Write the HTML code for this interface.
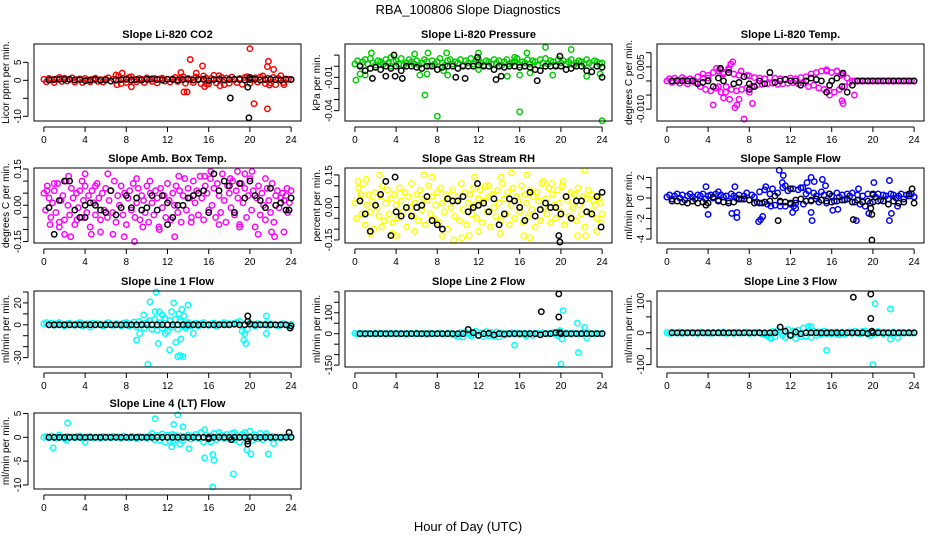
<!DOCTYPE html>
<html><head><meta charset="utf-8"><style>
html,body{margin:0;padding:0;background:#fff}
svg text{font-family:"Liberation Sans",sans-serif}
</style></head><body>
<svg id="chart" width="936" height="540" viewBox="0 0 936 540" xmlns="http://www.w3.org/2000/svg">
<rect width="936" height="540" fill="#fff"/>
<text x="468" y="14" text-anchor="middle" font-size="13">RBA_100806  Slope Diagnostics</text>
<text x="468" y="531" text-anchor="middle" font-size="13">Hour of Day (UTC)</text>
</svg>
<script>
const xTicks=[0,4,8,12,16,20,24];

const co2Band=[0.3,-0.4,0.5,0.2,-0.6,0.4,0.8,-0.3,0.6,-0.2,0.3,0.7,-0.5,0.2,0.4,-0.6,0.5,0.1,-0.4,0.3,0.6,-0.3,0.2,-0.5,0.4,0.7,-0.2,0.3,1.5,1.2,-0.9,0.5,-0.6,0.8,1.0,0.2,-0.4,0.5,0.3,-0.6,0.7,0.2,-0.3,0.5,-0.7,0.4,0.6,-0.2,0.3,-0.5,0.4,0.8,-0.3,0.6,1.0,-0.8,0.5,0.3,-0.6,0.9,0.4,-0.9,1.2,0.6,-1.0,0.5,1.4,-0.7,1.3,0.8,-1.2,0.6,-0.8,0.9,0.3,-0.6,0.5,-1.1,0.8,1.0,-0.8,0.4,0.7,-0.5,0.9,1.2,-0.9,0.6,-0.7,0.8,-1.2,0.5,1.3,-0.6,0.4,0.3,0.2];
const co2Extra=[[13.3,2.2],[13.6,-3.2],[13.9,-3.2],[14.2,5.8],[15.4,4],[15.6,-1.7],[15.8,-1],[14.8,2],[7.1,-1.2],[7.6,2],[8.5,-1.8],[20,8.8],[20.4,-6.5],[21.7,-7.9],[21.7,3.8],[21.8,5.3],[22.3,3],[21.9,-1.3],[17.1,-1.5],[23.3,-1.2]];
const co2Black=[0.1,0.2,0.3,0.2,0.3,0.1,0.2,-0.1,0.1,0.2,0,0.1,-0.2,0.1,0.2,0.3,0.1,0.2,0.1,0.3,0.4,0.2,0.1,0.3,0.2,0.1,0.2,0.3,0.1,0.2,0.3,-0.1,0.2,0.3,0.1,0.2,0.3,0.2,0.1,0.2,0.3,0.1,0.2,0.3,0.2,0.1,0.3,0.2];
const co2BlackExtra=[[18.1,-4.9],[19.8,-1.9],[19.9,-10.4],[20,0.8]];

const presBand=[0.002,0.005,0.001,0.004,0.006,0.002,0.007,0.003,0.001,0.005,0.004,0.002,0.006,0.003,0.000,0.004,0.005,0.002,0.007,0.001,0.003,0.006,0.004,0.002,0.005,0.001,0.003,0.006,0.004,0.000,0.005,0.002,0.004,0.007,0.003,0.001,0.005,0.006,0.002,0.004,0.003,0.006,0.001,0.005,0.003,0.007,0.002,0.004,0.006,0.003,0.001,0.005,0.004,0.002,0.006,0.003,0.005,0.001,0.004,0.006,0.002,0.003,0.005,0.007,0.001,0.004,0.003,0.006,0.002,0.005,0.004,0.001,0.006,0.003,0.007,0.002,0.005,0.004,0.001,0.006,0.003,0.005,0.002,0.004,0.006,0.001,0.003,0.005,0.004,0.002,0.006,0.003,0.001,0.005,0.004,0.002,0.003];
const presExtra=[[0.1,-0.0125],[0.5,-0.007],[1,-0.008],[1.6,0.012],[3.5,0.008],[5.8,0.011],[6.3,-0.008],[6.8,-0.026],[7,-0.007],[7.1,0.012],[8,-0.045],[8.6,-0.004],[8.9,0.012],[9,-0.008],[12,0.012],[14.8,-0.009],[15.5,0.008],[16,-0.041],[16,-0.008],[16.7,0.012],[18.5,0.017],[19.2,-0.008],[21,0.015],[22.5,-0.009],[23.8,-0.007],[24,-0.049],[12,-0.003],[17,-0.006]];
const presBlack=[0.000,-0.004,-0.002,-0.001,-0.003,0.000,-0.002,0.000,-0.004,0.000,0.000,-0.001,-0.002,0.000,0.000,-0.003,-0.001,0.000,0.000,-0.002,0.000,0.000,0.000,0.001,0.000,0.000,-0.003,0.000,-0.001,0.000,0.000,-0.001,0.000,-0.001,-0.003,-0.004,0.000,0.000,0.000,0.000,-0.003,-0.002,0.000,0.000,-0.004,-0.005,0.000,-0.001];
const presBlackExtra=[[1.7,-0.011],[3,-0.009],[3.8,0.01],[3.9,-0.009],[4.6,-0.011],[9.8,-0.01],[10.7,-0.011],[11.9,0.008],[13.7,-0.012],[14.2,-0.009],[17.7,-0.013],[19.9,0.009],[24,-0.01]];

const tempBand=[0.0000,0.0008,-0.0005,0.0010,0.0003,-0.0008,0.0012,0.0005,-0.0010,0.0008,0.0002,-0.0006,0.0015,-0.0020,0.0025,-0.0030,0.0020,-0.0035,0.0030,-0.0025,0.0035,-0.0040,0.0030,-0.0020,0.0040,-0.0030,0.0025,-0.0035,0.0020,-0.0030,0.0015,-0.0025,0.0018,-0.0020,0.0012,-0.0015,0.0010,-0.0012,0.0008,-0.0010,0.0012,-0.0008,0.0010,-0.0012,0.0008,-0.0010,0.0006,-0.0008,0.0010,-0.0006,0.0008,-0.0010,0.0012,-0.0008,0.0015,-0.0020,0.0025,-0.0015,0.0030,-0.0025,0.0035,-0.0030,0.0040,-0.0035,0.0030,-0.0040,0.0035,-0.0030,0.0025,-0.0020,0.0010,-0.0005,0,0,0,0,0,0,0,0,0,0,0,0,0,0,0,0,0,0,0,0,0,0,0,0,0];
const tempExtra=[[4.5,-0.0085],[4.8,0.0045],[5.2,0.004],[5.5,0.0025],[6,0.0045],[6.2,0.006],[6.4,0.0068],[6.1,-0.0065],[6.6,-0.0095],[6.8,-0.0085],[7.2,0.0035],[7.5,-0.0135],[7.0,-0.0065],[7.8,0.002],[8.3,-0.008],[8.0,-0.004],[5.7,-0.004],[5.0,-0.002],[4.0,0.001],[15.5,0.0035],[16.5,0.0035],[15.8,-0.005],[17,-0.007],[17.1,-0.008],[16.9,0.002],[18.2,-0.005],[3.5,0.001],[5.5,-0.006]];
const tempBlack=[0,0,0,0,0,-0.001,-0.0005,0,-0.002,0.001,0,0.003,-0.001,-0.0005,0.0015,-0.001,-0.002,0,-0.001,0.003,-0.0005,0,0.0005,0,0,-0.0015,0,0.001,0.0005,0,-0.004,0,0.001,-0.002,-0.004,-0.0015,0,0,0,0,0,0,0,0,0,0,0,0];
const tempBlackExtra=[[5.2,0.0045],[8,-0.003],[15.8,-0.0015],[17.1,0.0028]];

const ambBand=[0.05,-0.02,0.08,0.03,-0.05,0.01,0.06,-0.03,0.09,-0.07,0.02,0.04,-0.06,0.10,0.00,-0.04,0.07,0.03,-0.08,0.05,-0.01,0.06,-0.05,0.02,0.08,-0.03,0.04,-0.09,0.06,0.01,-0.04,0.09,0.03,-0.06,0.05,-0.02,0.07,-0.05,0.02,0.06,-0.03,0.10,-0.07,0.04,0.00,0.08,-0.04,0.05,-0.08,0.03,0.06,-0.02,0.09,-0.05,0.01,0.07,-0.06,0.04,0.02,-0.03,0.08,-0.07,0.05,0.01,-0.04,0.06,0.03,-0.09,0.07,-0.01,0.04,-0.05,0.09,0.02,-0.06,0.05,0.00,0.08,-0.03,0.06,-0.07,0.04,0.11,-0.02,0.07,0.03,-0.05,0.10,0.01,0.06,-0.04,0.12,0.03,-0.06,0.08,0.05,-0.02,0.11,0.00,0.07,-0.05,0.09,0.04,-0.03,0.13,0.02,-0.07,0.08,0.05,-0.01,0.10,-0.04,0.06,0.03,-0.08,0.09,0.01,0.07,-0.05,0.04,0.11,-0.02,0.06,-0.09,0.03,0.08,-0.04,0.05,0.00,-0.06,0.07,0.02,-0.03,0.09,-0.07,0.04,0.06,-0.01,0.03,0.05,0.02,0.04,-0.03,0.01,0.06];
const ambExtra=[[1,0.09],[1.5,-0.09],[2,-0.12],[2.6,-0.13],[3.2,-0.06],[4,0.13],[4.6,-0.12],[5.5,-0.11],[6.2,0.13],[6.7,-0.12],[7.8,-0.13],[8.8,-0.15],[9.6,-0.09],[10.3,0.1],[11.2,-0.1],[12.7,-0.13],[14.3,-0.07],[15.6,0.12],[16.2,0.14],[18.1,0.11],[18.8,0.14],[19.5,0.13],[20.2,0.14],[20.8,-0.12],[21.5,0.11],[22.1,-0.11],[22.4,-0.13],[23.3,-0.11],[23.6,0.07],[0.3,0.06],[0.6,-0.08],[2.4,0.12],[3.7,0.1],[5.0,0.08],[9.0,0.11],[13.1,0.12],[17.0,-0.08],[19.0,-0.09]];
const ambBlack=[-0.01,-0.12,0.02,0.1,0.1,-0.02,-0.05,0.0,0.01,0.0,-0.02,-0.03,0.06,-0.04,-0.01,0.04,-0.01,0.03,-0.02,-0.01,0.04,-0.02,0.04,0.01,-0.05,0.0,0.0,0.03,0.04,0.05,0.06,-0.03,0.13,0.06,0.10,0.08,-0.03,0.09,0.03,0.1,0.04,0.02,-0.01,0.07,0.0,0.01,-0.02,0.03];
const ambBlackExtra=[[4,-0.05],[12,-0.08],[23.8,-0.02]];

const rhBand=[0.02,-0.05,0.09,0.04,-0.03,0.11,-0.08,0.01,0.06,-0.02,0.03,-0.10,0.07,0.00,-0.04,0.05,0.10,-0.06,0.02,0.08,-0.03,0.04,-0.07,0.06,0.01,-0.05,0.09,0.03,-0.02,0.07,-0.09,0.05,0.00,0.11,-0.04,0.02,0.06,-0.06,0.08,-0.01,0.04,-0.08,0.03,0.10,-0.03,0.05,-0.05,0.01,0.07,-0.07,0.09,0.02,-0.02,0.06,-0.10,0.04,0.00,0.08,-0.04,0.03,0.05,-0.06,0.11,-0.01,0.07,-0.08,0.02,0.06,-0.03,0.09,0.01,-0.05,0.04,0.08,-0.07,0.03,0.10,-0.02,0.05,-0.09,0.06,0.00,-0.04,0.08,0.02,-0.06,0.11,0.04,-0.03,0.07,-0.08,0.01,0.09,-0.05,0.05,0.03,-0.02,0.10,-0.07,0.06,0.02,-0.04,0.08,-0.01,0.05,-0.09,0.07,0.03,-0.06,0.11,0.00,0.04,-0.03,0.09,-0.07,0.06,0.01,-0.05,0.08,0.02,-0.02,0.10,-0.08,0.05,0.03,-0.04,0.07,0.00,0.06,-0.06,0.09,0.01,-0.03,0.05,-0.09,0.04,0.08,-0.02,0.06,0.03,0.01,-0.05,0.04,0.02,-0.03];
const rhExtra=[[0.3,0.12],[0.6,0.06],[1.1,0.13],[1.5,-0.12],[2.4,0.15],[2.6,-0.09],[3.6,-0.12],[4.0,-0.13],[5.8,-0.11],[6.7,0.15],[7.5,0.14],[8.5,-0.13],[9.6,-0.15],[10.4,-0.14],[11.1,-0.13],[11.6,0.14],[12.0,-0.11],[14.1,-0.12],[14.2,0.14],[15.2,0.16],[16.4,-0.13],[16.7,0.15],[17.0,-0.14],[18.3,0.12],[19.1,0.11],[21.6,-0.13],[22.3,0.17],[22.4,-0.13],[23.5,-0.11],[23.9,-0.07],[20.2,0.12],[13.0,0.10]];
const rhBlack=[0.03,-0.03,-0.11,0.01,0.06,0.12,-0.13,-0.02,-0.04,0.00,-0.04,0.0,0.01,0.05,-0.06,-0.08,-0.10,0.04,0.03,0.03,0.05,-0.02,0.00,0.01,0.02,-0.02,0.04,-0.08,-0.03,0.04,0.03,0.00,-0.06,0.07,-0.04,-0.01,0.02,0.00,0.00,-0.03,0.05,-0.05,0.03,0.03,-0.02,-0.03,0.05,0.07];
const rhBlackExtra=[[3.9,0.14],[19.8,-0.13],[19.9,-0.16],[23.9,-0.09],[11.9,0.11]];

const flowBand=[0.1,0.3,-0.1,0.2,0.4,0.0,0.3,-0.2,0.2,0.4,0.1,-0.1,0.3,0.2,0.4,-0.1,0.2,0.3,0.0,0.4,-0.2,0.3,0.1,0.2,-0.3,0.4,0.2,0.0,0.3,-0.1,0.2,0.5,-0.2,0.3,0.1,-0.4,0.6,-0.5,0.8,-0.6,0.4,0.9,-0.7,0.5,-0.4,1.0,-0.8,0.7,-0.6,0.9,-0.5,0.8,1.0,-0.6,0.4,0.7,-0.3,0.5,0.2,-0.4,0.6,0.3,-0.5,0.4,0.2,-0.3,0.5,0.1,0.3,-0.2,0.4,0.2,0.5,-0.4,0.3,-0.6,0.2,-0.8,0.4,-0.5,0.3,0.1,0.4,-0.2,0.3,0.2,-0.1,0.4,0.3,0.0,0.2,0.4,-0.1,0.3,0.2,0.4,0.1];
const flowExtra=[[3.8,1.1],[4.0,-1.6],[6.3,-1.5],[6.6,1.1],[6.8,-1.9],[6.8,-1.4],[8.9,-2.3],[9.1,-2.1],[9.3,-1.8],[9.6,1.1],[10.1,-0.8],[10.9,2.7],[11.2,1.5],[11.3,2.2],[11.5,1.2],[12.2,-1.4],[12.3,-0.8],[13.2,1.0],[13.6,1.5],[14.0,2.0],[14.3,1.6],[14.1,-2.2],[14.0,-1.4],[15.1,1.8],[15.4,1.2],[16.1,-1.2],[16.6,-1.1],[18.4,-2.2],[18.6,0.9],[19.6,-1.5],[20.1,1.5],[21.6,1.7],[21.6,-2.2],[21.8,-1.5],[22.4,-0.8],[24,0.1],[5,0.6],[11,-0.8],[12.5,-1.0]];
const flowBlack=[-0.3,-0.3,-0.4,-0.5,-0.3,-0.5,-0.4,-0.5,0.1,-0.3,-0.4,-0.5,-0.4,-0.1,-0.1,-0.2,-0.5,-0.5,-0.4,-0.3,0.2,-0.3,-0.4,-0.5,-0.2,-0.1,-0.3,-0.2,-0.1,-0.2,-0.3,-0.4,-0.3,-0.2,-0.1,-0.4,-0.2,-0.4,-0.3,-0.4,-0.3,-0.3,-0.6,-0.3,-0.5,-0.4,0.4,-0.5];
const flowBlackExtra=[[3.8,-0.7],[10.8,-2.2],[12,0.9],[15.8,0.4],[18.1,-2.1],[19.8,-1.0],[19.9,-1.6],[19.9,-4.1],[20,0.4],[23.8,0.9]];

const l1Band=[1,2,0,1.5,-0.5,1,2,0.5,-1,1,1.5,0,-0.5,1,2,-1,0.5,1,-2,1.5,0,1,0.5,-1,1,2,0,-0.5,1,0.5,-1,1.5,2,-1,0.5,2.5,-2,3,1,-3,2,4,-4,5,-5,2,-3,6,-6,4,-2,5,-4,3,1,-3,2,-1,0.5,1.5,-1,1,2,0,-0.5,1,1.5,-1,0.5,1,2,0,1,0.5,1.5,2,3,-6,-8,-4,1.5,0.5,-1,1,0.5,0,1,-0.5,1,0.5,0,-1,0.5,1,0,-1,0.5];
const l1Extra=[[9.3,-8],[9.7,9],[10.1,-36],[10.3,21],[10.5,-4],[10.9,30],[10.8,12],[11.2,12],[11.1,-17],[11.5,9],[12.2,-23],[12.4,12],[12.6,20],[12.8,-16],[13,-29],[13.2,-28],[13.5,-29],[13.1,10],[13.4,14],[13.6,8],[13.8,-1],[13.3,-13],[14,18],[14.5,-8],[19.6,-17],[19.4,-14],[21.6,8],[21.6,-8],[9.0,-14],[11.8,-8]];
const l1Black=[0,0,0,0,0,0,0,0,0,0,0,0,0,0,0,0,0,0,0,0,0,0,0,0,0,0,0,0,0,0,0,0,0,0,0,0,0.5,0,0,0.5,0,0,0,0,0,0,0,-1];
const l1BlackExtra=[[19.8,8],[19.8,3],[23.9,-3]];

const l2Band=[2,-2,3,1,-3,2,0,-1,3,-2,1,2,-3,0,2,-1,3,-2,1,0,-3,2,1,-2,3,0,-1,2,-3,1,2,-2,0,3,-1,-2,1,3,-4,-8,-12,5,-15,8,3,-10,-6,12,-8,5,-14,10,-9,6,-12,8,-15,4,-6,2,-3,5,-2,3,-4,1,2,-5,3,-8,1,2,-3,4,0,-2,3,5,-4,-10,2,-3,4,1,-2,3,0,-1,2,-2,1,3,-1,0,2,-2,1];
const l2Extra=[[15.5,-55],[20.2,110],[20.0,-145],[20.1,-25],[21.6,50],[21.7,-90],[22.3,30],[22.5,-20],[19.9,15],[16.6,-10]];
const l2Black=[0,0,0,0,0,0,0,0,0,0,0,0,0,0,0,0,0,0,0,0,0,20,5,-8,0,2,-5,0,-2,0,0,0,0,0,0,-5,0,0,5,0,0,0,0,0,0,0,0,0];
const l2BlackExtra=[[18.1,105],[19.8,80],[19.8,190],[19.9,5]];

const l3Band=[1,-2,2,0,-1,3,-2,1,0,2,-1,1,-2,3,0,-1,2,-2,1,0,2,-1,3,-2,0,1,-2,2,0,-1,1,3,-2,0,-1,2,1,-3,-5,-10,-15,4,-12,7,2,-8,-15,10,-5,6,-18,8,-12,15,-10,20,-14,5,-8,3,-4,6,-3,2,-5,1,3,-6,2,-4,1,3,-2,5,-1,-3,4,6,-5,-8,3,-2,4,1,-3,2,0,-1,3,-2,1,2,-1,0,2,-1,1];
const l3Extra=[[15.5,-55],[20.2,92],[20,-100],[21.7,75],[21.7,-20],[22.4,-15],[14,20],[10.1,-18],[16.6,-5]];
const l3Black=[0,0,0,0,0,0,0,0,0,0,0,0,0,0,0,0,0,0,0,0,0,18,5,-8,3,-3,0,0,0,0,0,0,0,0,0,0,0,0,-2,0,0,0,0,0,0,0,0,0];
const l3BlackExtra=[[18.1,112],[19.8,122],[19.8,45],[19.9,5]];

const l4Band=[0,0.2,-0.1,0.3,0,-0.2,0.5,0.1,-0.3,0.2,0,0.1,-0.1,0.2,0.3,-0.2,0,0.1,0.2,-0.1,0,0.1,-0.2,0.2,0,0.1,-0.1,0.2,0,0.1,-0.2,0.3,0,-0.1,0.2,0.1,-0.3,0.2,0,0.1,-0.2,0.3,0.8,-0.5,0.4,-0.6,0.7,-1,0.5,-0.8,0.6,0.4,-0.5,0.3,-0.6,0.2,0.5,-0.4,0.3,0.6,-0.3,1,-1,0.5,-0.4,0.3,0.8,-0.5,0.2,0.4,-0.3,0.6,-0.2,0.8,-0.5,0.3,-1,0.6,1,-0.4,0.2,-0.6,0.5,-0.3,0.8,-0.5,0.2,0.3,-0.1,0.2,0,0.1,-0.2,0.1,0,0.2,0.1];
const l4Extra=[[0.9,-2.2],[2.3,3],[2.2,-0.6],[4,-1],[10.8,3.9],[12.4,-2],[12.6,2.7],[12.5,-1],[13,4.7],[13.2,-1.4],[13.5,2.2],[14.1,-2.4],[15.6,-4.3],[15.6,1.6],[16.2,-1],[16.4,-3.6],[16.5,-4.8],[16.4,-10.4],[18.4,-7.7],[17,1],[19.7,-2.6],[20,1.3],[20.1,-3.5],[21.8,-3.5],[22.3,-1.3],[18.5,1],[21.6,0.8]];
const l4Black=[0,0,0,0,0,0,0,0,0,0,0,0,0,0,0,0,0,0,0,0,0,0,0,0,0,0,0,0,0,0,0,0,0,0,0,0,0,0,0,0,0,0,0,0,0,0,0,0];
const l4BlackExtra=[[16,-0.3],[18.2,-0.5],[19.8,-1.4],[19.8,-0.8],[23.8,1]];

const panels=[
 {id:'co2',title:'Slope Li-820 CO2',ylab:'Licor ppm per min.',col:'#ff0000',L:34,T:44,B:121,dom:[-11.3,10.1],ticks:[-10,-5,0,5],labels:{'-10':'-10','0':'0','5':'5'},band:co2Band,extra:co2Extra,black:co2Black,bx:co2BlackExtra},
 {id:'pressure',title:'Slope Li-820 Pressure',ylab:'kPa per min.',col:'#00cc00',L:345,T:44,B:121,dom:[-0.0493,0.02],ticks:[-0.04,-0.03,-0.02,-0.01,0,0.01],labels:{'-0.04':'-0.04','-0.01':'-0.01'},band:presBand,extra:presExtra,black:presBlack,bx:presBlackExtra},
 {id:'temp',title:'Slope Li-820 Temp.',ylab:'degrees C per min.',col:'#ff00ff',L:657,T:44,B:121,dom:[-0.0142,0.0131],ticks:[-0.01,-0.005,0,0.005,0.01],labels:{'-0.01':'-0.010','0.005':'0.005'},band:tempBand,extra:tempExtra,black:tempBlack,bx:tempBlackExtra},
 {id:'amb-box',title:'Slope Amb. Box Temp.',ylab:'degrees C per min.',col:'#ff00ff',L:34,T:168,B:243,dom:[-0.156,0.154],ticks:[-0.15,-0.1,-0.05,0,0.05,0.1,0.15],labels:{'-0.15':'-0.15','0':'0.00','0.15':'0.15'},band:ambBand,extra:ambExtra,black:ambBlack,bx:ambBlackExtra},
 {id:'gas-rh',title:'Slope Gas Stream RH',ylab:'percent per min.',col:'#ffff00',L:345,T:168,B:243,dom:[-0.164,0.182],ticks:[-0.15,-0.1,-0.05,0,0.05,0.1,0.15],labels:{'-0.15':'-0.15','0':'0.00','0.15':'0.15'},band:rhBand,extra:rhExtra,black:rhBlack,bx:rhBlackExtra},
 {id:'sample-flow',title:'Slope Sample Flow',ylab:'ml/min per min.',col:'#0000ff',L:657,T:168,B:243,dom:[-4.38,2.92],ticks:[-4,-3,-2,-1,0,1,2],labels:{'-4':'-4','-2':'-2','0':'0','2':'2'},band:flowBand,extra:flowExtra,black:flowBlack,bx:flowBlackExtra},
 {id:'line1',title:'Slope Line 1 Flow',ylab:'ml/min per min.',col:'#00ffff',L:34,T:291,B:367,dom:[-38.6,30.9],ticks:[-30,-20,-10,0,10,20,30],labels:{'-30':'-30','0':'0','20':'20'},band:l1Band,extra:l1Extra,black:l1Black,bx:l1BlackExtra},
 {id:'line2',title:'Slope Line 2 Flow',ylab:'ml/min per min.',col:'#00ffff',L:345,T:291,B:367,dom:[-159,204],ticks:[-150,-100,-50,0,50,100,150,200],labels:{'-150':'-150','0':'0','100':'100'},band:l2Band,extra:l2Extra,black:l2Black,bx:l2BlackExtra},
 {id:'line3',title:'Slope Line 3 Flow',ylab:'ml/min per min.',col:'#00ffff',L:657,T:291,B:367,dom:[-107.6,131.6],ticks:[-100,-50,0,50,100],labels:{'-100':'-100','0':'0','100':'100'},band:l3Band,extra:l3Extra,black:l3Black,bx:l3BlackExtra},
 {id:'line4',title:'Slope Line 4 (LT) Flow',ylab:'ml/min per min.',col:'#00ffff',L:34,T:413,B:489,dom:[-10.85,5.1],ticks:[-10,-5,0,5],labels:{'-10':'-10','-5':'-5','0':'0','5':'5'},band:l4Band,extra:l4Extra,black:l4Black,bx:l4BlackExtra}
];
const W=267;
const svg=document.getElementById('chart');
const NS='http://www.w3.org/2000/svg';
function mk(tag,attrs,parent){const e=document.createElementNS(NS,tag);for(const k in attrs)e.setAttribute(k,attrs[k]);parent.appendChild(e);return e;}
panels.forEach(p=>{
  const g=mk('g',{},svg);
  
  
  const xs=v=>p.L+(v+0.96)/25.92*W;
  const ys=v=>p.B-(v-p.dom[0])/(p.dom[1]-p.dom[0])*(p.B-p.T);
  const t=mk('text',{x:p.L+W/2,y:p.T-6,'text-anchor':'middle','font-size':'11','font-weight':'bold'},g);
  t.textContent=p.title;
  
  
  const pts=mk('g',{fill:'none','stroke-width':'1.5'},g);
  
  
  const dot=(x,y,c)=>{const cy=ys(y);if(cy<p.T-2||cy>p.B+2)return;const c1=mk('circle',{cx:xs(x).toFixed(1),cy:cy.toFixed(1),r:'2.7',stroke:c},pts);};
  const step=24/(p.band.length-1);
  p.band.forEach((v,i)=>dot(i*step,v,p.col));
  p.extra.forEach(d=>dot(d[0],d[1],p.col));
  p.black.forEach((v,i)=>dot(0.5+i*0.5,v,'#000'));
  p.bx.forEach(d=>dot(d[0],d[1],'#000'));
  const box=mk('rect',{x:p.L,y:p.T,width:W,height:p.B-p.T,fill:'none',stroke:'#000','stroke-width':'1'},g);
  
  
  const ax=mk('g',{stroke:'#000','stroke-width':'1'},g);
  
  
  mk('line',{x1:xs(0),x2:xs(24),y1:p.B+6,y2:p.B+6},ax);
  xTicks.forEach(v=>{mk('line',{x1:xs(v),x2:xs(v),y1:p.B+6,y2:p.B+11},ax);
    const tl=mk('text',{x:xs(v),y:p.B+22,'text-anchor':'middle','font-size':'10',stroke:'none'},g);tl.textContent=v;
    
    });
  const y0=ys(p.ticks[0]),y1=ys(p.ticks[p.ticks.length-1]);
  mk('line',{x1:p.L-6,x2:p.L-6,y1:y0,y2:y1},ax);
  p.ticks.forEach(v=>{mk('line',{x1:p.L-11,x2:p.L-6,y1:ys(v),y2:ys(v)},ax);
    const lab=p.labels[String(v)];
    if(lab!==undefined){const yl=mk('text',{x:0,y:0,'text-anchor':'middle','font-size':'10',transform:`translate(${p.L-13},${ys(v)}) rotate(-90)`},g);yl.textContent=lab;
      
      }});
  const yt=mk('text',{x:0,y:0,'text-anchor':'middle','font-size':'10',transform:`translate(${p.L-25},${(p.T+p.B)/2}) rotate(-90)`},g);
  yt.textContent=p.ylab;
  
  
});
</script>
</body></html>
